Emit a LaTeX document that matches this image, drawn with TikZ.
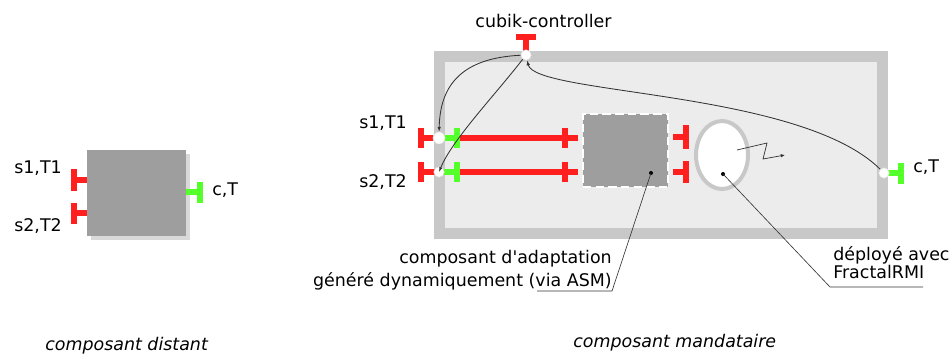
\documentclass[tikz,border=0pt]{standalone}
\usepackage{fontspec}
\setmainfont{DejaVu Sans}[ItalicFont={DejaVu Sans Oblique}]
\usepackage{tikz}
\usetikzlibrary{arrows.meta,positioning,shapes.geometric,shadows,calc}
\definecolor{itfred}{HTML}{FF1F1F}
\definecolor{itfgreen}{HTML}{55FF2A}
\definecolor{boxgray}{HTML}{9E9E9E}
\definecolor{framegray}{HTML}{C8C8C8}
\definecolor{innergray}{HTML}{ECECEC}
\definecolor{wire}{HTML}{333333}

\begin{document}
\begin{tikzpicture}[x=0.025cm,y=-0.025cm,
  font=\fontsize{12.4}{15}\selectfont,
  lbl/.style={anchor=base west,inner sep=0},
  distbox/.style={fill=boxgray,minimum width=2.475cm,minimum height=2.15cm,inner sep=0,
    drop shadow={shadow xshift=2.5pt,shadow yshift=-2.5pt,opacity=0.3}},
  frame/.style={draw=framegray,line width=7.8pt,fill=innergray,minimum width=11.09cm,minimum height=4.41cm,inner sep=0,
    drop shadow={shadow xshift=3pt,shadow yshift=-3pt,opacity=0.3}},
  adapt/.style={fill=boxgray,draw=white,line width=1.4pt,dash pattern=on 6pt off 3pt,minimum width=2.125cm,minimum height=1.825cm,inner sep=0},
  rmi/.style={ellipse,fill=white,draw=framegray,line width=2.85pt,minimum width=1.3cm,minimum height=1.7cm,inner sep=0},
  itf/.style={circle,fill=white,draw=black!12,line width=0.4pt,minimum size=0.26cm,inner sep=0},
  dot/.style={circle,fill=black,minimum size=0.1cm,inner sep=0},
  srv/.style={draw=itfred,line width=4pt},
  clt/.style={draw=itfgreen,line width=4pt},
  ctl/.style={-{Latex[length=3.5pt,width=2.5pt]},draw=wire,line width=0.6pt},
  leader/.style={draw=wire,line width=0.45pt}
]
\useasboundingbox (0,0) rectangle (952,358);

% composant distant
\node[distbox] (dist) at (136.5,193) {};
\draw[srv] (dist.west |- 0,180) -- (74,180) (74,169) -- (74,191);
\draw[srv] (dist.west |- 0,213) -- (74,213) (74,203) -- (74,224);
\draw[clt] (dist.east |- 0,192) -- (200,192) (200,182) -- (200,203);
\node[lbl] (ds1) at (14,173) {s1,T1};
\node[lbl] (ds2) at (14,231) {s2,T2};
\node[lbl] (dc) at (212,195) {c,T};
\node[lbl,font=\fontsize{12.4}{15}\selectfont\itshape] (dname) at (45,350) {composant distant};

% composant mandataire
\node[frame] (mand) at (661,145) {};
\node[adapt] (adapt) at (625.5,150.5) {};
\node[rmi] (rmi) at (722,155) {};

\draw[srv] (526,55) -- (526,37) (516,37) -- (536,37);
\draw[srv] (439,138) -- (421,138) (421,128) -- (421,148);
\draw[srv] (439,172) -- (421,172) (421,162) -- (421,182);
\draw[srv] (457,138) -- (578,138) (565,128) -- (565,148);
\draw[srv] (457,172) -- (578,172) (565,162) -- (565,182);
\draw[clt] (439,138) -- (457,138) (457,128) -- (457,148);
\draw[clt] (439,172) -- (457,172) (457,162) -- (457,182);
\draw[srv] (673,137) -- (686,137) (686,125) -- (686,149);
\draw[srv] (673,172) -- (686,172) (686,161) -- (686,183);
\draw[clt] (884,173) -- (901,173) (901,163) -- (901,184);

\node[itf] (ctrl) at (526,55) {};
\node[itf,minimum size=0.3cm] (s1) at (439,138) {};
\node[itf] (s2) at (439,172) {};
\node[itf] (cT) at (884,173) {};

\node[lbl,anchor=base] (ctrllbl) at (543.5,27) {cubik-controller};
\node[lbl] (ms1) at (359,128) {s1,T1};
\node[lbl] (ms2) at (359,187) {s2,T2};
\node[lbl] (mc) at (913,172) {c,T};

\draw[ctl] (ctrl) .. controls (462,58) and (440,85) .. (s1);
\draw[ctl] (ctrl) .. controls (495,95) and (452,140) .. (s2.center);
\draw[ctl] (cT) .. controls (800,90) and (535,95) .. (ctrl);

% invocation distante
\coordinate (zz) at (737,150);
\draw[-{Latex[length=3pt,width=2.5pt]},draw=wire,line width=0.5pt] (zz) -- ++(30,-7) -- ++(-4,16) -- ++(22,-4);

% annotations
\node[dot] (adot) at (651,173) {};
\node[dot] (rdot) at (723,174) {};
\coordinate (aknee) at (612,291);
\coordinate (aend) at (537,291);
\coordinate (rknee) at (830,287);
\coordinate (rend) at (923,287);
\draw[leader] (adot.center) -- (aknee) -- (aend);
\draw[leader] (rdot.center) -- (rknee) -- (rend);
\node[lbl,anchor=base east] (alb1) at (612,263) {composant d\textquotesingle adaptation};
\node[lbl,anchor=base east] (alb2) at (612,286) {généré dynamiquement (via ASM)};
\node[lbl] (rlb1) at (833,260) {déployé avec};
\node[lbl] (rlb2) at (833,278) {FractalRMI};
\node[lbl,font=\fontsize{12.4}{15}\selectfont\itshape] (mname) at (573,347) {composant mandataire};
\end{tikzpicture}
\end{document}
